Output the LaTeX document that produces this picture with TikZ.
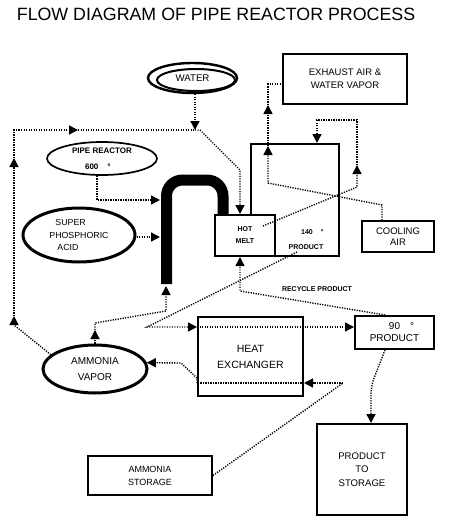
\documentclass[tikz,border=0pt]{standalone}
\usepackage{fontspec}
\setmainfont{Liberation Sans}
\usetikzlibrary{shapes.geometric,arrows.meta,calc}

\begin{document}
\begin{tikzpicture}[x=1pt,y=-1pt,
    box/.style={draw,line width=2pt,rectangle,inner sep=0pt,align=center},
    oval/.style={draw,ellipse,inner sep=0pt,align=center},
    dots/.style={line width=1.4pt,dash pattern=on 1.2pt off 1.3pt},
    flow/.style={dots,-{Triangle[length=9pt,width=9pt]}},
    small/.style={font=\fontsize{7}{9}\selectfont\bfseries},
    pipeline/.style={line width=11pt,rounded corners=16pt}]
  \useasboundingbox (0,0) rectangle (450,528);
  % title
  \node[font=\fontsize{17.8}{20}\selectfont] (title) at (216,14.5)
    {FLOW DIAGRAM OF PIPE REACTOR PROCESS};
  % feeds
  \node[oval,line width=2.4pt,minimum width=89pt,minimum height=30pt,
    font=\fontsize{9.7}{11}\selectfont] (water) at (192.5,78) {WATER};
  \draw[line width=2pt] (196,80) ellipse [x radius=39pt,y radius=11pt];
  \node[oval,line width=1.7pt,minimum width=110pt,minimum height=33pt,
    align=left,font=\fontsize{8}{16}\selectfont\bfseries] (pr) at (102,158.5)
    {PIPE REACTOR\\\hspace*{13pt}600\hspace{9pt}°};
  \node[oval,line width=3pt,minimum width=112pt,minimum height=54pt,
    align=left,font=\fontsize{8.8}{12.5}\selectfont] (spa) at (79,235)
    {\hspace*{6pt}SUPER\\PHOSPHORIC\\\hspace*{8pt}ACID};
  \node[oval,line width=3pt,minimum width=104pt,minimum height=48pt,
    font=\fontsize{10}{16}\selectfont] (av) at (95,369) {AMMONIA\\VAPOR};
  % boxes
  \node[box,minimum width=124pt,minimum height=50pt,
    font=\fontsize{9.5}{13}\selectfont] (exhaust) at (345,79)
    {EXHAUST AIR \&\\WATER VAPOR};
  \node[box,minimum width=88pt,minimum height=112pt] (cooler) at (295,200) {};
  \node[small] (t140) at (307,232) {140\rlap{\hspace{8pt}°}};
  \node[small] (tprod) at (306,247) {PRODUCT};
  \draw[pipeline] (166.5,284) -- (166.5,180) -- (223,180) -- (223,215);
  \node[box,fill=white,minimum width=60pt,minimum height=41pt,
    small,font=\fontsize{7}{12}\selectfont\bfseries] (hotmelt) at (245,235.5) {HOT\\MELT};
  \node[box,minimum width=72pt,minimum height=31pt,
    font=\fontsize{9.5}{10.5}\selectfont] (cool) at (398,236.5) {COOLING\\AIR};
  \node[box,minimum width=105pt,minimum height=79pt,
    font=\fontsize{10.5}{16}\selectfont] (hx) at (250.5,356.5) {HEAT\\EXCHANGER};
  \node[box,minimum width=79pt,minimum height=33pt,
    font=\fontsize{10}{12}\selectfont] (p90) at (394.5,332.5)
    {90\rlap{\hspace{10pt}°}\\PRODUCT};
  \node[box,minimum width=90pt,minimum height=91pt,
    font=\fontsize{9.6}{13.5}\selectfont] (store) at (362,469.5)
    {PRODUCT\\TO\\STORAGE};
  \node[box,minimum width=124pt,minimum height=39pt,
    font=\fontsize{9}{13}\selectfont] (nh3) at (150,475.5) {AMMONIA\\STORAGE};
  \node[small] (recycle) at (317,289) {RECYCLE PRODUCT};
  % water and return loop
  \coordinate (jw) at (195,130);
  \coordinate (up1) at (14,316);
  \coordinate (up2) at (14,158);
  \coordinate (rt1) at (78,130);
  \coordinate (mx) at (240,0);
  \draw[flow] (water.south -| jw) -- (jw);
  \draw[flow] (av.162) -- (14,325) -- (up1);
  \draw[flow] (up1) -- (up2);
  \draw[flow] (up2) -- (14,130) -- (rt1);
  \draw[dots] (rt1) -- (jw);
  \draw[flow] (jw) -- (200,130) -- (240,170) -- (hotmelt.north -| mx);
  % feeds into the pipe
  \coordinate (pr1) at (97,200);
  \coordinate (pin1) at (160,200);
  \coordinate (pin2) at (160,237);
  \coordinate (a1) at (95,330);
  \coordinate (pbot) at (166,286);
  \draw[flow] (pr.south -| pr1) -- (pr1) -- (pin1);
  \draw[flow] (spa.east |- pin2) -- (pin2);
  \draw[flow] (av.north) -- (a1);
  \draw[flow] (a1) -- (95,323) -- (166,311) -- (pbot);
  % product to heat exchanger
  \coordinate (r1) at (297,252);
  \coordinate (r2) at (147,327);
  \draw[flow] (r1) -- (r2) -- (hx.west |- r2);
  \draw[flow] (hx.west |- r2) -- (p90.west |- r2);
  % ammonia through heat exchanger
  \coordinate (s1) at (343,383);
  \draw[dots] (nh3.east) -- (s1);
  \draw[flow] (s1) -- (hx.east |- s1);
  \draw[dots] (hx.east |- s1) -- (hx.west |- s1);
  \draw[flow] (hx.west |- s1) -- (197,378) -- (181,363) -- (av.7);
  % cooling air to exhaust
  \coordinate (c1) at (382,205);
  \coordinate (c2) at (268,183);
  \coordinate (up3) at (268,146);
  \coordinate (up4) at (268,105);
  \coordinate (e1) at (268,84);
  \draw[flow] (cool.north -| c1) -- (c1) -- (c2) -- (up3);
  \draw[flow] (up3) -- (up4);
  \draw[dots] (up4) -- (e1) -- (exhaust.west |- e1);
  % hot melt over the top
  \coordinate (h1) at (263,226);
  \coordinate (h2) at (357,187);
  \coordinate (up5) at (357,165);
  \coordinate (h3) at (357,120);
  \coordinate (h4) at (317,120);
  \draw[flow] (h1) -- (h2) -- (up5);
  \draw[flow] (up5) -- (h3) -- (h4) -- (cooler.north -| h4);
  % recycle and storage
  \coordinate (rp) at (240,291);
  \coordinate (s2) at (371,386);
  \draw[flow] ($(p90.north)+(-9.5,0)$) -- (rp) -- (hotmelt.south -| rp);
  \draw[flow,rounded corners=8pt] ($(p90.south)+(-9.5,0)$) -- (s2) -- (store.north -| s2);
\end{tikzpicture}
\end{document}
